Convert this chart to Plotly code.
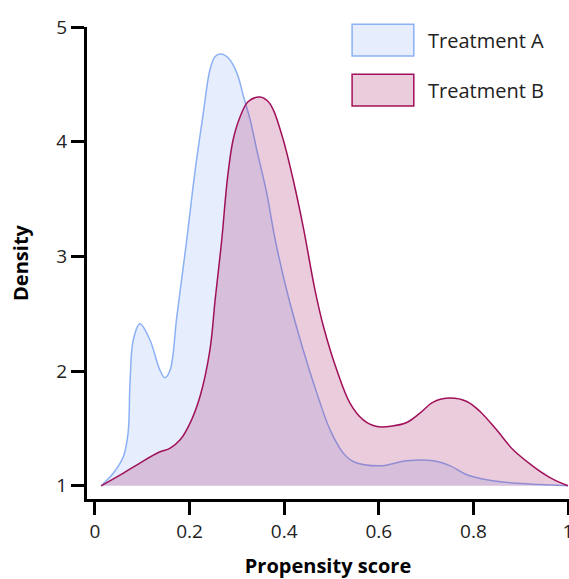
import plotly.graph_objects as go

# Treatment A density curve
a_x = [0.013, 0.039, 0.060, 0.070, 0.074, 0.081, 0.095, 0.116, 0.137, 0.148, 0.159, 0.173,
       0.194, 0.211, 0.229, 0.243, 0.254, 0.266, 0.282, 0.300, 0.314, 0.328, 0.342, 0.363,
       0.381, 0.405, 0.440, 0.469, 0.497, 0.525, 0.546, 0.603, 0.659, 0.715, 0.751, 0.786,
       0.828, 0.884, 0.941, 1.000]
a_y = [1.000, 1.111, 1.255, 1.462, 1.898, 2.273, 2.412, 2.273, 2.011, 1.942, 2.011, 2.476,
       3.145, 3.726, 4.249, 4.627, 4.743, 4.764, 4.729, 4.598, 4.394, 4.193, 3.929, 3.552,
       3.145, 2.709, 2.186, 1.808, 1.488, 1.285, 1.212, 1.174, 1.218, 1.218, 1.174, 1.096,
       1.052, 1.024, 1.011, 1.000]

# Treatment B density curve
b_x = [0.013, 0.060, 0.095, 0.134, 0.159, 0.180, 0.201, 0.222, 0.243, 0.254, 0.268, 0.280,
       0.292, 0.307, 0.324, 0.349, 0.366, 0.377, 0.398, 0.419, 0.440,
       0.465, 0.483, 0.511, 0.539, 0.567, 0.596, 0.631, 0.659, 0.687, 0.715, 0.751,
       0.786, 0.814, 0.849, 0.884, 0.927, 0.962, 1.000]
b_y = [1.000, 1.111, 1.198, 1.290, 1.329, 1.401, 1.547, 1.779, 2.186, 2.622, 3.145, 3.680,
       4.017, 4.220, 4.351, 4.389, 4.351, 4.278, 4.017, 3.668, 3.261,
       2.709, 2.389, 2.011, 1.721, 1.575, 1.517, 1.523, 1.552, 1.634, 1.730, 1.765,
       1.735, 1.648, 1.488, 1.314, 1.168, 1.072, 1.000]

x_ticks = [0, 0.2, 0.4, 0.6, 0.8, 1]
x_tick_labels = ["0", "0.2", "0.4", "0.6", "0.8", "1"]
y_ticks = [1, 2, 3, 4, 5]
series_names = ["Treatment A", "Treatment B"]

A_LINE = "rgb(140,176,245)"
A_FILL = "rgba(140,176,245,0.22)"
B_LINE = "rgb(160,16,90)"
B_FILL = "rgba(160,16,90,0.21)"

fig = go.Figure()
fig.add_trace(go.Scatter(x=a_x, y=a_y, mode="lines", fill="toself", fillcolor=A_FILL,
                         line=dict(color=A_LINE, width=1.5, shape="spline", smoothing=1.0),
                         name=series_names[0], showlegend=False))
fig.add_trace(go.Scatter(x=b_x, y=b_y, mode="lines", fill="toself", fillcolor=B_FILL,
                         line=dict(color=B_LINE, width=1.5, shape="spline", smoothing=1.0),
                         name=series_names[1], showlegend=False))

FONT = "'Open Sans', Lato, sans-serif"

fig.update_layout(
    width=569, height=579,
    margin=dict(l=87, r=0, t=27, b=80),
    paper_bgcolor="white", plot_bgcolor="white",
    font=dict(family=FONT, color="#222"),
    xaxis=dict(range=[-0.0169, 1.0021], tickvals=x_ticks, ticktext=x_tick_labels,
               automargin=False, ticklabeloverflow="allow",
               showgrid=False, zeroline=False, showline=True, linecolor="black", linewidth=3,
               ticks="outside", ticklen=13, tickwidth=3, tickcolor="black",
               tickfont=dict(size=19, family=FONT, color="#222"),
               title=dict(text="<b>Propensity score</b>", font=dict(size=20, family=FONT, color="black"),
                          standoff=17)),
    yaxis=dict(range=[0.885, 5.0], tickvals=y_ticks, automargin=False, ticklabeloverflow="allow",
               showgrid=False, zeroline=False, showline=True, linecolor="black", linewidth=3,
               ticks="outside", ticklen=13, tickwidth=3, tickcolor="black",
               tickfont=dict(size=19, family=FONT, color="#222"),
               title=dict(text="<b>Density</b>", font=dict(size=20, family=FONT, color="black"),
                          standoff=23)),
)

# Legend drawn as boxes + labels
legend_rows = [(0.9386, 1.006, A_FILL, A_LINE, series_names[0]),
               (0.8326, 0.900, B_FILL, B_LINE, series_names[1])]
for y0, y1, fc, lc, name in legend_rows:
    fig.add_shape(type="rect", xref="paper", yref="paper", x0=0.550, x1=0.678, y0=y0, y1=y1,
                  fillcolor=fc, line=dict(color=lc, width=1.5))
    fig.add_annotation(xref="paper", yref="paper", x=0.703, y=(y0 + y1) / 2, text=name,
                       showarrow=False, xanchor="left", yanchor="middle",
                       font=dict(size=20, family=FONT, color="#222"))

fig.write_html("out.html", config={"displayModeBar": False},
               post_script="document.body.style.margin='0';")
